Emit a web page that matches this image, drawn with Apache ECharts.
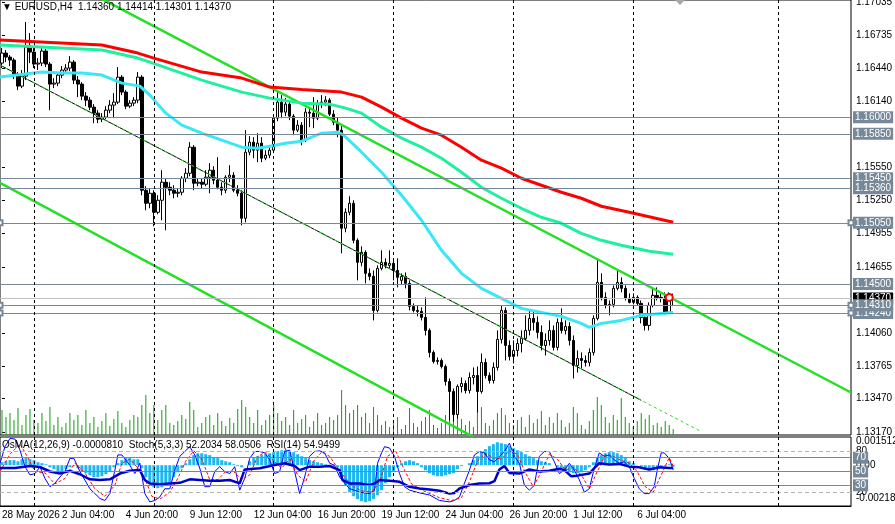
<!DOCTYPE html>
<html>
<head>
	<meta charset="UTF-8">
	<title>EURUSD,H4</title>
	<script src="https://cdn.jsdelivr.net/npm/echarts@6/dist/echarts.min.js"></script>
	<style>
		html, body { margin: 0; padding: 0; background: #fff; }
		#main { width: 895px; height: 524px; }
	</style>
</head>
<body>
<div id="main"></div>

<script>
	// EURUSD H4, 28 May 16:00 .. 7 Jul 16:00 (169 bars), oldest first
	var opens = [
		1.16486,1.16576,1.16540,1.16513,1.16378,1.16279,1.16369,1.16630,1.16585,1.16477,
		1.16486,1.16594,1.16477,1.16297,1.16306,1.16378,1.16423,1.16441,1.16495,1.16333,
		1.16297,1.16189,1.16153,1.16090,1.16036,1.15982,1.16000,1.16063,1.16108,1.16135,
		1.16360,1.16225,1.16099,1.16126,1.16153,1.16360,1.15343,1.15226,1.15316,1.15145,
		1.15253,1.15415,1.15370,1.15343,1.15316,1.15325,1.15451,1.15496,1.15730,1.15406,
		1.15415,1.15397,1.15460,1.15523,1.15433,1.15370,1.15343,1.15460,1.15478,1.15343,
		1.15316,1.15091,1.15685,1.15775,1.15703,1.15766,1.15631,1.15658,1.15703,1.15991,
		1.16135,1.16045,1.16117,1.16009,1.15883,1.15928,1.15793,1.16045,1.16036,1.15991,
		1.16117,1.16135,1.16153,1.16027,1.15955,1.15883,1.15001,1.15145,1.15226,1.14893,
		1.14695,1.14785,1.14596,1.14569,1.14263,1.14641,1.14695,1.14668,1.14686,1.14623,
		1.14533,1.14569,1.14506,1.14299,1.14263,1.14254,1.14200,1.14083,1.13885,1.13804,
		1.13813,1.13759,1.13624,1.13534,1.13327,1.13579,1.13606,1.13543,1.13660,1.13678,
		1.13534,1.13795,1.13678,1.13633,1.13750,1.14002,1.14263,1.13948,1.13849,1.13903,
		1.13966,1.14011,1.14083,1.14191,1.14155,1.14065,1.13948,1.13993,1.14083,1.13930,
		1.14155,1.14083,1.14119,1.13993,1.13768,1.13831,1.13813,1.13795,1.13885,1.14191,
		1.14515,1.14380,1.14308,1.14317,1.14461,1.14515,1.14461,1.14371,1.14335,1.14380,
		1.14326,1.14200,1.14128,1.14308,1.14398,1.14380,1.14371,1.14245,1.14360
	];
	var closes = [
		1.16576,1.16540,1.16513,1.16378,1.16279,1.16369,1.16630,1.16585,1.16477,1.16486,
		1.16594,1.16477,1.16297,1.16306,1.16378,1.16423,1.16441,1.16495,1.16333,1.16297,
		1.16189,1.16153,1.16090,1.16036,1.15982,1.16000,1.16063,1.16108,1.16135,1.16360,
		1.16225,1.16099,1.16126,1.16153,1.16360,1.15343,1.15226,1.15316,1.15145,1.15253,
		1.15415,1.15370,1.15343,1.15316,1.15325,1.15451,1.15496,1.15730,1.15406,1.15415,
		1.15397,1.15460,1.15523,1.15433,1.15370,1.15343,1.15460,1.15478,1.15343,1.15316,
		1.15091,1.15685,1.15775,1.15703,1.15766,1.15631,1.15658,1.15703,1.15991,1.16135,
		1.16045,1.16117,1.16009,1.15883,1.15928,1.15793,1.16045,1.16036,1.15991,1.16117,
		1.16135,1.16153,1.16027,1.15955,1.15883,1.15001,1.15145,1.15226,1.14893,1.14695,
		1.14785,1.14596,1.14569,1.14263,1.14641,1.14695,1.14668,1.14686,1.14623,1.14560,
		1.14569,1.14506,1.14299,1.14263,1.14254,1.14200,1.14083,1.13885,1.13804,1.13813,
		1.13759,1.13624,1.13534,1.13327,1.13579,1.13606,1.13543,1.13660,1.13678,1.13534,
		1.13795,1.13678,1.13633,1.13750,1.14002,1.14263,1.13948,1.13849,1.13903,1.13966,
		1.14011,1.14083,1.14191,1.14155,1.14065,1.13948,1.13993,1.14083,1.13930,1.14155,
		1.14083,1.14119,1.13993,1.13768,1.13831,1.13813,1.13795,1.13885,1.14191,1.14515,
		1.14380,1.14308,1.14317,1.14461,1.14515,1.14461,1.14371,1.14335,1.14380,1.14326,
		1.14200,1.14128,1.14308,1.14398,1.14380,1.14371,1.14245,1.14353,1.14370
	];
	var lows = [
		1.16441,1.16495,1.16459,1.16342,1.16243,1.16261,1.16333,1.16486,1.16441,1.16423,
		1.16459,1.16450,1.16063,1.16261,1.16279,1.16351,1.16387,1.16414,1.16297,1.16180,
		1.16153,1.16099,1.16063,1.15946,1.15946,1.15955,1.15982,1.16036,1.15991,1.16117,
		1.16198,1.16072,1.16081,1.16099,1.16126,1.15298,1.15163,1.15181,1.15019,1.15127,
		1.15073,1.14983,1.15298,1.15271,1.15280,1.15298,1.15415,1.15469,1.15343,1.15379,
		1.15361,1.15379,1.15316,1.15397,1.15352,1.15298,1.15316,1.15415,1.15325,1.15289,
		1.15028,1.15055,1.15658,1.15631,1.15595,1.15595,1.15613,1.15631,1.15676,1.15964,
		1.15991,1.16009,1.15973,1.15838,1.15865,1.15748,1.15775,1.15910,1.15901,1.15973,
		1.16081,1.16099,1.16009,1.15928,1.15820,1.14776,1.14965,1.15118,1.14866,1.14533,
		1.14659,1.14506,1.14533,1.14173,1.14245,1.14623,1.14641,1.14641,1.14533,1.14470,
		1.14497,1.14461,1.14263,1.14245,1.14209,1.14173,1.14038,1.13840,1.13786,1.13777,
		1.13741,1.13588,1.13273,1.13264,1.13291,1.13525,1.13516,1.13516,1.13597,1.13345,
		1.13516,1.13651,1.13606,1.13606,1.13723,1.13966,1.13813,1.13813,1.13786,1.13849,
		1.13885,1.13993,1.14038,1.14083,1.14011,1.13903,1.13858,1.13948,1.13903,1.13903,
		1.14056,1.14047,1.13948,1.13651,1.13705,1.13741,1.13759,1.13759,1.13858,1.14173,
		1.14353,1.14281,1.14218,1.14290,1.14443,1.14425,1.14353,1.14326,1.14317,1.14308,
		1.14146,1.14083,1.14083,1.14290,1.14353,1.14335,1.14227,1.14236,1.14301
	];
	var highs = [
		1.16621,1.16603,1.16558,1.16531,1.16405,1.16423,1.16855,1.16756,1.16621,1.16531,
		1.16630,1.16612,1.16495,1.16351,1.16405,1.16459,1.16477,1.16549,1.16513,1.16369,
		1.16315,1.16225,1.16180,1.16117,1.16063,1.16036,1.16099,1.16153,1.16216,1.16450,
		1.16378,1.16243,1.16153,1.16180,1.16405,1.16378,1.15379,1.15361,1.15343,1.15298,
		1.15523,1.15451,1.15415,1.15388,1.15361,1.15469,1.15541,1.15775,1.15748,1.15451,
		1.15451,1.15523,1.15586,1.15559,1.15640,1.15415,1.15478,1.15568,1.15505,1.15388,
		1.15343,1.15883,1.15829,1.15820,1.15856,1.15820,1.15703,1.15739,1.16018,1.16225,
		1.16198,1.16171,1.16153,1.16027,1.15973,1.15955,1.16081,1.16090,1.16180,1.16153,
		1.16198,1.16189,1.16171,1.16063,1.15999,1.15919,1.15181,1.15289,1.15253,1.14911,
		1.14839,1.14803,1.14641,1.14623,1.14668,1.14803,1.14731,1.14803,1.14713,1.14731,
		1.14596,1.14605,1.14533,1.14326,1.14308,1.14290,1.14380,1.14101,1.13903,1.13840,
		1.13831,1.13777,1.13651,1.13561,1.13597,1.13660,1.13633,1.13705,1.13750,1.13759,
		1.13876,1.13831,1.13705,1.13795,1.14083,1.14308,1.14290,1.13993,1.13993,1.14011,
		1.14083,1.14218,1.14263,1.14263,1.14209,1.14128,1.14056,1.14173,1.14128,1.14191,
		1.14281,1.14173,1.14155,1.14038,1.13903,1.13885,1.13858,1.13921,1.14218,1.14731,
		1.14596,1.14425,1.14353,1.14488,1.14623,1.14560,1.14488,1.14416,1.14416,1.14398,
		1.14353,1.14227,1.14335,1.14470,1.14470,1.14416,1.14425,1.14425,1.14414
	];
	var volumes = [
		2500,1800,2200,1500,2700,1000,2000,2600,1500,
		1200,2200,1400,2800,1000,1800,800,1200,2200,
		1500,2000,1000,2500,1200,1800,800,1400,2200,900,1600,2400,1200,800,1500,2000,1800,
		3000,4000,2200,3000,1500,2500,3000,1200,
		1000,1400,2000,1600,3300,2500,800,1200,1800,2000,1000,2200,1400,900,1700,1200,2600,3500,
		2800,1800,1200,2500,1000,1500,2000,3000,2200,1400,1800,1000,2500,1200,1600,2000,800,1400,2200,1000,1200,1800,1500,2000,
		4500,3000,2200,2500,3000,1800,2200,1200,2800,2000,
		1000,1400,800,1200,1800,600,1000,2700,1200,800,
		1400,1800,2500,1000,700,1200,2000,2600,3000,2200,
		1600,1000,1400,800,2400,2800,1200,900,1500,2200,
		2700,2000,1200,1000,1500,1800,800,2000,1200,1600,
		2400,1000,1800,1200,2200,1500,800,1200,2800,2200,
		1000,600,1400,2500,3800,3000,1800,1200,2000,1500,
		3700,1800,1200,800,1400,2200,1600,2000,1000,1200,
		800,1400,1000,600
	];

	// moving averages and trend lines: [bar, price]
	var maRed = [[-0.5,1.16693],[25,1.16648],[34,1.16576],[38,1.16531],[50,1.16405],[60,1.16351],[67,1.16270],[75,1.16248],[85,1.16225],[90,1.16180],[95,1.16090],[100,1.15991],[105,1.15901],[110,1.15838],[115,1.15730],[120,1.15613],[125,1.15541],[130,1.15451],[135,1.15388],[140,1.15325],[145,1.15271],[150,1.15199],[157,1.15145],[168,1.15055]];
	var maSpring = [[-0.5,1.16648],[25,1.16603],[34,1.16531],[37,1.16495],[50,1.16333],[60,1.16225],[67,1.16171],[75,1.16126],[82,1.16117],[86,1.16081],[90,1.16036],[95,1.15910],[100,1.15811],[105,1.15730],[110,1.15631],[115,1.15505],[120,1.15370],[125,1.15271],[130,1.15181],[135,1.15100],[140,1.15046],[145,1.14956],[150,1.14893],[155,1.14848],[162,1.14794],[168,1.14767]];
	var maAqua = [[-0.5,1.16360],[10,1.16405],[15,1.16396],[20,1.16396],[25,1.16378],[30,1.16306],[34.5,1.16279],[37,1.16198],[41,1.16036],[45,1.15928],[50,1.15856],[55,1.15793],[60,1.15730],[64,1.15721],[67,1.15739],[71,1.15766],[75,1.15784],[80,1.15856],[84,1.15865],[85.5,1.15838],[90,1.15685],[95,1.15505],[100,1.15298],[105,1.15073],[110,1.14803],[115,1.14596],[120,1.14461],[125,1.14371],[130,1.14281],[135,1.14245],[140,1.14209],[145,1.14146],[147,1.14110],[150,1.14146],[155,1.14173],[160,1.14218],[165,1.14236],[168,1.14245]];
	var trendUpper = [[-0.5,1.17544],[212.5,1.13525]];
	var trendLower = [[-0.5,1.15409],[125,1.12990]];
	var channelMid = [[-0.5,1.16468],[160,1.13455]];
	var channelMidExt = [[-0.5,1.16468],[174.5,1.13183]];

	var levels = [1.16000, 1.15850, 1.15450, 1.15360, 1.14500];
	var anchoredLevels = [1.15050, 1.14240, 1.14310];
	var bid = 1.14370;
	var alertMark = [167, 1.14380];
	var separators = [8, 38, 68, 98, 128, 158, 194.25];

	var priceTicks = [1.17035, 1.16735, 1.16440, 1.16140, 1.15550, 1.15250, 1.14955, 1.14655, 1.14060, 1.13765, 1.13470, 1.13170];
	var tickBars = [0, 15, 31, 47, 63, 79, 95, 111, 127, 143, 159];
	var tickLabels = ['28 May 2026', '2 Jun 04:00', '4 Jun 20:00', '9 Jun 12:00', '12 Jun 04:00', '16 Jun 20:00', '19 Jun 12:00', '24 Jun 04:00', '26 Jun 20:00', '1 Jul 12:00', '6 Jul 04:00'];

	// indicator window
	var osma = [
		0.00016,0.00021,0.00027,0.00027,0.00021,0.00032,0.00038,0.00032,0.00027,
		0.00016,0.00011,0.00005,
		-0.00011,-0.00021,-0.00032,-0.00032,-0.00021,
		-0.00011,-0.00005,
		-0.00016,-0.00032,-0.00043,-0.00054,-0.00064,-0.00064,-0.00059,-0.00048,-0.00032,
		-0.00011,0.00011,0.00027,0.00038,0.00038,0.00032,0.00032,
		-0.00016,-0.00064,-0.00096,-0.00118,-0.00123,-0.00118,-0.00107,-0.00096,
		-0.00064,-0.00038,-0.00016,
		0.00011,0.00032,0.00054,0.00064,0.00064,0.00059,
		0.00054,0.00043,0.00038,0.00027,0.00021,0.00016,0.00005,
		-0.00005,-0.00011,0.00000,
		0.00021,0.00038,0.00048,0.00054,0.00059,0.00064,0.00070,0.00075,0.00080,0.00080,0.00075,0.00070,
		0.00059,0.00048,0.00038,0.00027,0.00021,0.00016,0.00011,
		0.00005,0.00000,-0.00005,-0.00011,
		-0.00064,-0.00107,-0.00145,-0.00166,-0.00182,-0.00193,-0.00198,-0.00193,-0.00182,-0.00161,-0.00134,
		-0.00096,-0.00064,-0.00032,-0.00011,
		0.00011,0.00021,0.00027,0.00021,0.00011,
		-0.00011,-0.00027,-0.00043,-0.00054,-0.00059,-0.00059,-0.00054,-0.00048,-0.00043,-0.00021,
		-0.00005,0.00000,0.00011,
		0.00027,0.00048,0.00070,0.00086,0.00102,0.00113,0.00123,0.00118,0.00113,0.00102,0.00091,0.00080,0.00070,0.00059,0.00048,0.00038,0.00027,
		0.00021,0.00016,0.00011,0.00000,-0.00011,
		-0.00021,-0.00032,-0.00038,-0.00043,-0.00043,-0.00038,-0.00027,-0.00011,
		0.00016,0.00038,0.00054,0.00064,0.00070,0.00070,0.00064,0.00054,0.00038,
		0.00021,0.00011,0.00000,-0.00011,
		-0.00021,-0.00027,-0.00027,-0.00021,-0.00016,
		-0.00005,0.00005,-0.00008
	];
	var stochMain = [[-0.5,62],[0.75,86],[2,98],[3.25,97],[4.5,81],[5.75,57],[7,45],[8.25,47],[9.5,57],[10.75,40],[12,28],[13.25,33],[14.5,42],[15.75,50],[17,69],[18,69],[19.5,50],[22,25],[24.5,11],[25.75,8],[27,18],[28.25,52],[29,74],[30,74],[32,59],[33.25,47],[34.5,62],[35.75,18],[37,6],[38.25,8],[39.5,13],[40.75,25],[42,25],[43.25,52],[44.5,72],[45.75,79],[47,86],[48.25,74],[49.5,55],[50.75,28],[52,28],[53.25,50],[54.5,57],[55.75,50],[57,47],[58.25,57],[59.5,23],[60.75,40],[62,69],[63.25,79],[64.5,79],[65.75,77],[67,67],[68.25,47],[69.5,50],[70.75,79],[72,81],[73.25,50],[74.5,18],[75.75,42],[77,72],[78.25,79],[79.5,80],[80.75,77],[82,62],[83.25,59],[84.5,42],[85.75,33],[87,25],[88.25,23],[89.5,20],[92,18],[93.25,23],[94,62],[95,77],[95.75,86],[97,84],[98.25,72],[99.5,47],[100.75,28],[102,23],[104.5,19],[107,16],[109.5,8],[112,6],[113.25,8],[114.5,13],[115.75,33],[117,52],[118.25,74],[119.5,79],[120.75,77],[122,67],[123.25,64],[124.5,72],[125.75,79],[127,91],[128.25,72],[129.5,62],[130.75,30],[132,23],[133.25,30],[134.5,72],[135.75,79],[137,79],[138.25,64],[139.5,47],[140.75,52],[142,62],[143.25,52],[144.5,38],[145.75,20],[147,25],[148.25,55],[149.5,77],[150.75,72],[152,74],[153.25,67],[154.5,62],[155.75,64],[157,57],[158.25,40],[159.5,25],[160.75,18],[162,18],[163.25,28],[164,52],[165,77],[165.75,77],[167,69],[168,52.2]];
	var stochSignal = [[-0.5,50],[2,75],[4.5,90],[6.5,70],[8.25,50],[10.75,48],[13.25,32],[15.75,40],[18.25,62],[20.75,48],[23.25,25],[25.75,14],[28.25,30],[30,62],[32,68],[34,55],[35.75,40],[37.5,14],[39.5,10],[42,20],[44,40],[46,65],[48,80],[50,68],[52,38],[54,38],[56,50],[58,50],[60,38],[62,45],[64,72],[66,78],[68,65],[70,55],[72,68],[74,45],[76,35],[78,65],[80,78],[82,72],[84,55],[86,40],[88,28],[90,22],[92.5,20],[94.5,35],[96.5,72],[98.5,80],[100.5,55],[102.5,32],[105.5,22],[109.5,12],[112.5,8],[115,12],[117,35],[119,65],[121,76],[123,70],[125,68],[127,80],[129,75],[131,48],[133,28],[135,50],[137,75],[139,68],[141,52],[143,56],[145,45],[147,25],[149,50],[151,74],[153,72],[155,66],[157,62],[159,50],[161,28],[163,20],[165,45],[167,70],[168,58]];
	var rsi = [[-0.5,55],[3.25,55],[7,58],[9.5,56.5],[12,50],[14.5,47],[17,51],[19.5,46],[22,38.6],[24.5,37.6],[27,38.6],[29.5,47],[32,51],[34.5,52],[35.75,37.6],[37,32.7],[39.5,31.7],[42,32.7],[44.5,33.6],[47,38.6],[49.5,37.6],[52,36.5],[54.5,36.5],[57,37.6],[59.5,32.7],[60.75,53],[64.5,54.7],[68.25,59.5],[70.75,62],[73.25,58],[74.5,52],[77,57],[79.5,57],[82,58],[84.5,52],[85.25,37.6],[87,32.7],[89.5,32.7],[92,30.3],[93.25,32.7],[94.5,37.6],[97,36.5],[99.5,35],[102,27.8],[104.5,25.4],[107,24],[109.5,22],[112,18],[113.25,19],[114.5,25.4],[117,30.3],[119.5,32.7],[122,33],[123.25,36],[124.5,53],[125.75,58],[127,48],[129.5,47],[132,53],[134.5,50],[137,51],[139.5,54],[140.75,52],[142.5,43],[144,44],[147,47],[148.25,55],[149.5,62],[152,60],[154.5,61],[157,57],[159.5,56],[162,53],[164.5,56],[167,55],[168,54.95]];
	var stochLevels = [80, 70, 50, 30, 20];
	var osmaTicks = [0.001512, 0, -0.002186];

	var SLOTS = 213;
	var FONT = '"Liberation Sans", Arial, "DejaVu Sans", sans-serif';
	var SLATE = '#778899';

	var cats = [];
	for (var i = 0; i < SLOTS; i++) cats.push(String(i));
	var candles = opens.map(function (o, i) { return [o, closes[i], lows[i], highs[i]]; });

	function tag(text, bg) {
		return {
			show: true, position: 'end', distance: 2, formatter: text,
			color: '#fff', backgroundColor: bg, padding: [1, 2, 0, 2],
			fontSize: 10, lineHeight: 11, fontFamily: FONT
		};
	}

	var levelLines = levels.map(function (v) {
		return { yAxis: v, lineStyle: { color: SLATE, width: 1, type: 'solid' }, label: tag(v.toFixed(5), SLATE) };
	});
	levelLines.push({ yAxis: bid, lineStyle: { color: '#c0c0c0', width: 1, type: 'solid' }, label: tag(bid.toFixed(5), '#000') });

	var anchorLines = anchoredLevels.map(function (v) {
		return { yAxis: v, lineStyle: { color: SLATE, width: 1, type: 'solid' }, label: tag(v.toFixed(5), SLATE) };
	});

	var sepLines = separators.map(function (b) { return { xAxis: b }; });

	var oscLines = stochLevels.map(function (v) {
		var dashed = (v === 80 || v === 20);
		return {
			yAxis: v,
			lineStyle: dashed ? { color: '#b4b4b4', width: 1, type: [4, 3] } : { color: SLATE, width: 1, type: 'solid' },
			label: dashed ? { show: false } : tag(String(v), SLATE)
		};
	});

	function lineSeries(name, xi, yi, data, color, width, dash, z) {
		return {
			name: name, type: 'line', xAxisIndex: xi, yAxisIndex: yi, data: data,
			showSymbol: false, symbol: 'none', silent: true, z: z || 3,
			lineStyle: { color: color, width: width, type: dash || 'solid' }
		};
	}

	var myChart = echarts.init(document.getElementById('main'));

	var option = {
		animation: false,
		backgroundColor: '#fff',
		textStyle: { fontFamily: FONT },
		title: [
			{ text: '\u25BC EURUSD,H4  1.14360 1.14414 1.14301 1.14370', left: 2, top: 2, padding: 0,
				textStyle: { fontSize: 10, fontWeight: 'normal', color: '#000', fontFamily: FONT } },
			{ text: 'OsMA(12,26,9) -0.0000810  Stoch(5,3,3) 52.2034 58.0506  RSI(14) 54.9499', left: 2, top: 440, padding: 0,
				textStyle: { fontSize: 10, fontWeight: 'normal', color: '#000', fontFamily: FONT } }
		],
		graphic: [
			{ type: 'polygon', shape: { points: [[675, 0], [685, 0], [680, 5]] }, style: { fill: '#a8a8a8' }, silent: true }
		],
		grid: [
			{ left: 0, right: 44, top: 0, height: 435, show: true, borderColor: '#000', borderWidth: 1, outerBoundsMode: 'none' },
			{ left: 0, right: 44, top: 437, height: 69, show: true, borderColor: '#000', borderWidth: 1, outerBoundsMode: 'none' }
		],
		xAxis: [
			{ type: 'category', gridIndex: 0, data: cats, boundaryGap: true,
				axisLine: { show: false }, axisTick: { show: false }, axisLabel: { show: false }, splitLine: { show: false } },
			{ type: 'value', gridIndex: 0, min: -0.5, max: SLOTS - 0.5, show: false },
			{ type: 'category', gridIndex: 1, data: cats, boundaryGap: true,
				axisLine: { show: true, lineStyle: { color: '#000' } }, axisTick: { show: false }, splitLine: { show: false },
				axisLabel: {
					interval: function (i) { return tickBars.indexOf(i) >= 0; },
					formatter: function (v, i) { return tickLabels[tickBars.indexOf(i)]; },
					align: 'left', margin: 4, fontSize: 10, color: '#000', fontFamily: FONT
				} },
			{ type: 'value', gridIndex: 1, min: -0.5, max: SLOTS - 0.5, show: false }
		],
		yAxis: [
			{ type: 'value', gridIndex: 0, position: 'right', min: 1.13143, max: 1.17053, scale: true,
				splitLine: { show: false }, axisLine: { show: false },
				axisTick: { show: true, customValues: priceTicks, length: 3, lineStyle: { color: '#000' } },
				axisLabel: { customValues: priceTicks, margin: 5, fontSize: 10, color: '#000', fontFamily: FONT,
					formatter: function (v) { return v.toFixed(5); } } },
			{ type: 'value', gridIndex: 0, min: 0, max: 43500, show: false },
			{ type: 'value', gridIndex: 1, position: 'right', min: 0, max: 100,
				splitLine: { show: false }, axisLine: { show: false }, axisTick: { show: false },
				axisLabel: { customValues: [80, 20], margin: 5, fontSize: 10, color: '#000', fontFamily: FONT } },
			{ type: 'value', gridIndex: 1, position: 'right', min: -0.002186, max: 0.001512,
				splitLine: { show: false }, axisLine: { show: false }, axisTick: { show: false },
				axisLabel: { customValues: osmaTicks, margin: 5, fontSize: 10, color: '#000', fontFamily: FONT,
					formatter: function (v) {
						if (v === 0) return '0.00';
						// MT4 keeps the extreme labels inside the window
						return v > 0 ? '{top|' + v.toFixed(6) + '}' : '{bot|' + v.toFixed(6) + '}';
					},
					rich: {
						top: { fontSize: 10, color: '#000', fontFamily: FONT, padding: [9, 0, 0, 0] },
						bot: { fontSize: 10, color: '#000', fontFamily: FONT, padding: [0, 0, 16, 0] }
					} } }
		],
		series: [
			{
				name: 'Volume', type: 'bar', xAxisIndex: 0, yAxisIndex: 1, data: volumes,
				barWidth: 1, silent: true, itemStyle: { color: '#139a13' }, z: 1
			},
			{
				name: 'EURUSD', type: 'candlestick', xAxisIndex: 0, yAxisIndex: 0, data: candles,
				barWidth: 3, silent: true, z: 2,
				itemStyle: { color: '#fff', color0: '#000', borderColor: '#000', borderColor0: '#000', borderWidth: 1 }
			},
			lineSeries('Trend upper', 1, 0, trendUpper, '#22e022', 2.5),
			lineSeries('Trend lower', 1, 0, trendLower, '#22e022', 2.5),
			Object.assign(lineSeries('Channel', 1, 0, channelMid, '#000', 1), {
				markLine: { silent: true, precision: 5, symbol: ['none', 'none'], animation: false, data: levelLines }
			}),
			Object.assign(lineSeries('Channel ext', 1, 0, channelMidExt, '#22e022', 1, [3, 3]), {
				markPoint: { silent: true, animation: false, symbol: 'emptyCircle', symbolSize: 7,
					itemStyle: { color: '#ff0000', borderColor: '#ff0000', borderWidth: 1 }, label: { show: false },
					data: [{ coord: alertMark }] }
			}),
			Object.assign(lineSeries('MA red', 1, 0, maRed, '#ff0000', 3, null, 4), {
				markLine: { silent: true, precision: 5, symbol: ['emptyRect', 'emptyRect'], symbolSize: 5, animation: false, data: anchorLines }
			}),
			lineSeries('MA spring', 1, 0, maSpring, '#1ff0a0', 3, null, 4),
			Object.assign(lineSeries('MA aqua', 1, 0, maAqua, '#38e8f8', 3, null, 4), {
				markLine: { silent: true, precision: 3, symbol: ['none', 'none'], animation: false,
					lineStyle: { color: '#000', width: 1, type: [3, 3] }, label: { show: false }, data: sepLines }
			}),
			{
				name: 'OsMA', type: 'bar', xAxisIndex: 2, yAxisIndex: 3, data: osma,
				barWidth: 3, silent: true, itemStyle: { color: '#1eb6ee' }, z: 1
			},
			Object.assign(lineSeries('Stoch', 3, 2, stochMain, '#0000ff', 1), {
				markLine: { silent: true, precision: 2, symbol: ['none', 'none'], animation: false, data: oscLines }
			}),
			lineSeries('Signal', 3, 2, stochSignal, '#ff0000', 1, [3, 2]),
			Object.assign(lineSeries('RSI', 3, 2, rsi, '#0000c8', 2.5, null, 4), {
				markLine: { silent: true, precision: 3, symbol: ['none', 'none'], animation: false,
					lineStyle: { color: '#000', width: 1, type: [3, 3] }, label: { show: false }, data: sepLines }
			})
		]
	};

	myChart.setOption(option);
</script>
</body>
</html>
